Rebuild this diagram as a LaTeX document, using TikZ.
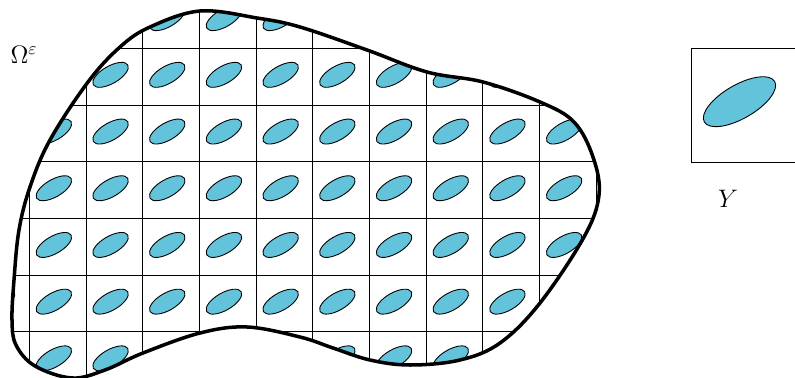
\documentclass[tikz,border=0pt]{standalone}
\usepackage{tikz}

\definecolor{inclcol}{HTML}{62C3DA}

\tikzset{
  cellline/.style={line width=0.55pt},
  incl/.style={draw=black, fill=inclcol, line width=0.5pt},
  boundary/.style={line width=2pt, line join=round},
  lbl/.style={font=\Large}
}

\begin{document}
\begin{tikzpicture}[x=0.02cm, y=-0.02cm]

  \def\cs{56.7}   % cell size
  \def\gx{29.3}   % grid origin x
  \def\gy{-8.3}   % grid origin y

  \clip (0,0) rectangle (795,378);

  % domain
  \def\blob{plot[smooth cycle, tension=0.6] coordinates {
    (200,11) (257,18) (300,27) (367,50) (427,72) (483,82) (540,102)
    (574,122) (593,157) (599,195) (584,237) (540,303) (500,343)
    (460,360) (410,365) (370,360) (333,348) (300,337) (247,327)
    (200,333) (143,353) (105,370) (72,378) (35,366) (16,345) (12,320)
    (14,280) (19,230) (30,187) (50,140) (88,82) (120,47) (150,27)}}

  \begin{scope}
    \clip \blob;
    % grid
    \foreach \i in {0,...,10}
      \draw[cellline] ({\gx+\i*\cs},-20) -- ({\gx+\i*\cs},400);
    \foreach \j in {0,...,7}
      \draw[cellline] (0,{\gy+\j*\cs}) -- (620,{\gy+\j*\cs});
    % inclusions
    \foreach \i in {-1,...,10}
      \foreach \j in {0,...,6}
        \draw[incl, shift={({\gx+(\i+0.5)*\cs-3.8},{\gy+(\j+0.5)*\cs-1.9})}, rotate=30]
          (0,0) ellipse[x radius=19.9, y radius=8.7];
  \end{scope}

  \draw[boundary] \blob;

  \node[lbl] (omega) at (24,55) {$\Omega^\varepsilon$};

  % reference cell
  \draw[cellline] (691,48) rectangle (805,162);
  \draw[incl, shift={(739.5,101.7)}, rotate=30]
    (0,0) ellipse[x radius=40.6, y radius=16.8];
  \node[lbl] (ylab) at (728,199) {$Y$};

\end{tikzpicture}
\end{document}
